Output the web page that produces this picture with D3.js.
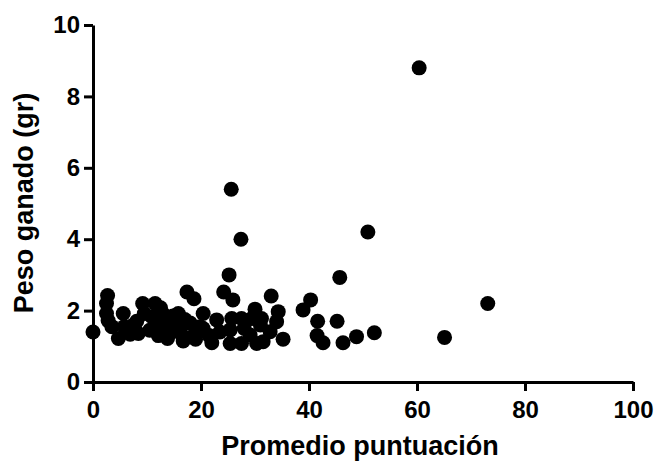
<!doctype html>
<html>
<head>
    <meta charset="UTF-8">
    <title>Peso ganado vs Promedio puntuación</title>
    <script src="https://d3js.org/d3.v7.min.js"></script>
    <style>
        body { margin: 0; background: #fff; }
        text { font-family: "Liberation Sans", Arial, sans-serif; font-weight: bold; }
    </style>
</head>
<body>
    <script>
        // promedio puntuación (x) y peso ganado en gr (y)
        var puntuacion = [0, 2.7, 2.5, 2.5, 2.8, 4.7, 5.6, 5.8, 6.9, 8.1, 8.4, 9.2, 9.5, 10.9, 11.5, 12.5,
            11.9, 12.1, 13.8, 14.3, 13.5, 15.5, 15.8, 16.1, 16.7, 17.4, 18.7, 18, 18.9, 19.8, 20.4, 20.4,
            22, 22.9, 24.2, 25.9, 25.2, 25.6, 27.4, 25.7, 27.5, 29.4, 31.2, 25.4, 25.4, 27.5, 29.1, 30.3,
            31.5, 30, 33, 32.8, 34.3, 34, 35.2, 38.9, 40.3, 41.6, 41.5, 42.6, 45.2, 45.7, 46.3, 48.8,
            50.9, 52.1, 60.4, 65.1, 73.1, 10.5, 14.8, 17, 21.5, 23.5, 7.5, 3.5, 13, 16.5, 19, 28, 31];
        var peso = [1.4, 2.42, 2.2, 1.92, 1.72, 1.22, 1.92, 1.55, 1.34, 1.7, 1.36, 2.2, 1.92, 1.83, 2.2, 2.08,
            1.55, 1.3, 1.22, 1.4, 1.6, 1.55, 1.92, 1.5, 1.15, 2.52, 2.33, 1.65, 1.36, 1.55, 1.92, 1.5,
            1.1, 1.74, 2.52, 2.3, 3.0, 5.4, 4.0, 1.78, 1.78, 1.78, 1.78, 1.46, 1.08, 1.08, 1.32, 1.08,
            1.13, 2.04, 2.41, 1.41, 1.97, 1.69, 1.2, 2.02, 2.3, 1.7, 1.3, 1.1, 1.7, 2.93, 1.1, 1.27,
            4.2, 1.38, 8.8, 1.25, 2.2, 1.45, 1.85, 1.75, 1.3, 1.4, 1.6, 1.55, 1.9, 1.3, 1.2, 1.5, 1.6];
        var xTicks = [0, 20, 40, 60, 80, 100];
        var yTicks = [0, 2, 4, 6, 8, 10];

        var w = 657, h = 463;
        var svg = d3.select("body").append("svg").attr("width", w).attr("height", h);

        var x = d3.scaleLinear().domain([0, 100]).range([93, 633]);
        var y = d3.scaleLinear().domain([0, 10]).range([382, 25]);

        var data = puntuacion.map(function (d, i) { return [d, peso[i]]; });

        var xAxis = svg.append("g")
            .attr("transform", "translate(0,382)")
            .call(d3.axisBottom(x).tickValues(xTicks).tickSize(9).tickPadding(10).tickSizeOuter(0));
        var yAxis = svg.append("g")
            .attr("transform", "translate(93,0)")
            .call(d3.axisLeft(y).tickValues(yTicks).tickSize(9).tickPadding(4).tickSizeOuter(0));

        [xAxis, yAxis].forEach(function (g) {
            g.select(".domain").attr("stroke", "#000").attr("stroke-width", 3);
            g.selectAll(".tick line").attr("stroke", "#000").attr("stroke-width", 3);
            g.selectAll(".tick text").attr("fill", "#000").style("font-size", "24px")
                .style("font-family", "'Liberation Sans', Arial, sans-serif").style("font-weight", "bold");
        });

        svg.append("g").selectAll("circle")
            .data(data)
            .enter().append("circle")
            .attr("cx", function (d) { return x(d[0]); })
            .attr("cy", function (d) { return y(d[1]); })
            .attr("r", 7.5)
            .attr("fill", "#000");

        svg.append("text")
            .attr("x", 360).attr("y", 455)
            .attr("text-anchor", "middle")
            .style("font-size", "27px")
            .text("Promedio puntuación");

        svg.append("text")
            .attr("transform", "translate(33,203) rotate(-90)")
            .attr("text-anchor", "middle")
            .style("font-size", "27px")
            .text("Peso ganado (gr)");
    </script>
</body>
</html>
